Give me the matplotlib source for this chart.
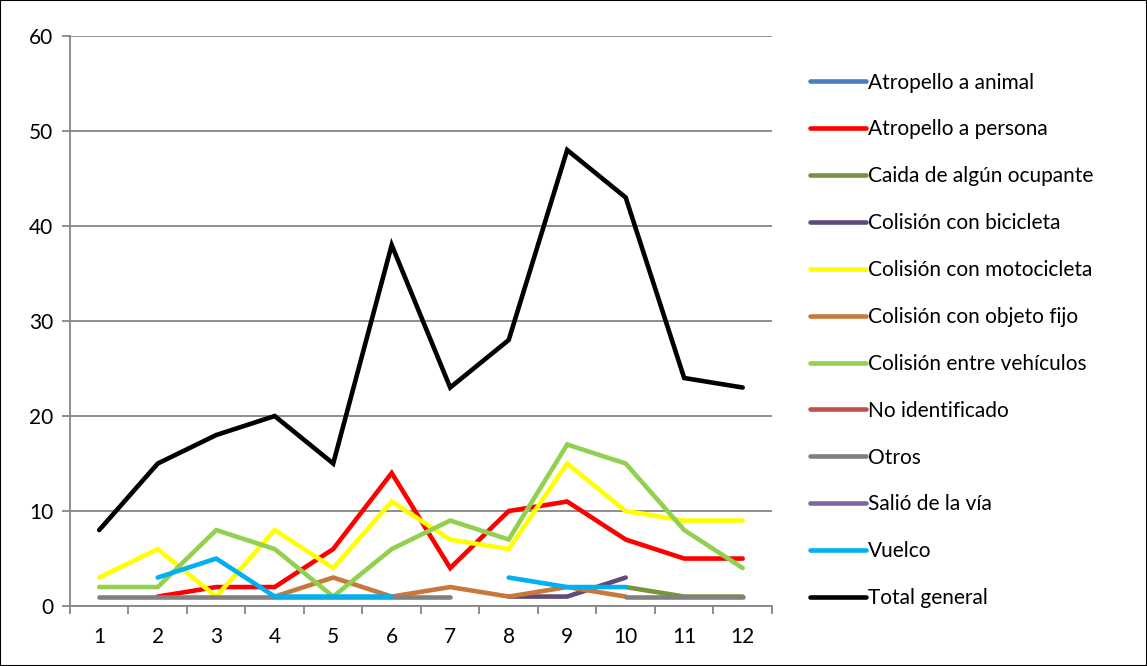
import numpy as np
import matplotlib
matplotlib.use('Agg')
import matplotlib.pyplot as plt
from matplotlib.patches import Rectangle

nan = np.nan

# monthly counts by accident type
months = list(range(1, 13))
atropello_animal = [nan] * 12
atropello_persona = [nan, 1, 2, 2, 6, 14, 4, 10, 11, 7, 5, 5]
caida_ocupante = [nan, nan, nan, nan, nan, nan, nan, nan, nan, 2, 1, 1]
colision_bicicleta = [nan, nan, nan, nan, nan, nan, nan, 1, 1, 3, nan, nan]
colision_moto = [3, 6, 1, 8, 4, 11, 7, 6, 15, 10, 9, 9]
colision_objeto = [nan, nan, nan, 1, 3, 1, 2, 1, 2, 1, nan, nan]
colision_vehiculos = [2, 2, 8, 6, 1, 6, 9, 7, 17, 15, 8, 4]
no_identificado = [nan] * 12
otros = [1, 1, 1, 1, 1, 1, 1, nan, nan, 1, 1, 1]
salio_via = [nan] * 12
vuelco = [nan, 3, 5, 1, 1, 1, nan, 3, 2, 2, nan, nan]
total_general = [8, 15, 18, 20, 15, 38, 23, 28, 48, 43, 24, 23]

series = [
    ('Atropello a animal', atropello_animal, '#4A7EBB'),
    ('Atropello a persona', atropello_persona, '#FF0000'),
    ('Caida de algún ocupante', caida_ocupante, '#77933C'),
    ('Colisión con bicicleta', colision_bicicleta, '#604A7B'),
    ('Colisión con motocicleta', colision_moto, '#FFFF00'),
    ('Colisión con objeto fijo', colision_objeto, '#C8783A'),
    ('Colisión entre vehículos', colision_vehiculos, '#92D050'),
    ('No identificado', no_identificado, '#C0504D'),
    ('Otros', otros, '#808080'),
    ('Salió de la vía', salio_via, '#8064A2'),
    ('Vuelco', vuelco, '#00B0F0'),
    ('Total general', total_general, '#000000'),
]

plt.rcParams['font.family'] = ['Lato', 'DejaVu Sans']

fig = plt.figure(figsize=(11.47, 6.66), dpi=100)
ax = fig.add_axes([0.061, 0.090, 0.612, 0.856])

for name, vals, col in series:
    ax.plot(months, vals, color=col, lw=3.3, label=name, solid_capstyle='round',
            solid_joinstyle='miter')

ax.set_xlim(0.5, 12.5)
ax.set_ylim(0, 60)
ax.set_yticks(range(0, 61, 10))
ax.set_xticks(months)
ax.set_xticks(np.arange(0.5, 13, 1), minor=True)
ax.tick_params(axis='x', which='major', length=0, pad=15, labelsize=15)
ax.tick_params(axis='x', which='minor', length=6, width=1.3, color='#868686')
ax.tick_params(axis='y', length=6, width=1.3, color='#868686', labelsize=15, pad=6)
ax.grid(axis='y', color='#868686', lw=1.3)
ax.set_axisbelow(True)
for s in ['top', 'right']:
    ax.spines[s].set_visible(False)
for s in ['left', 'bottom']:
    ax.spines[s].set_color('#868686')
    ax.spines[s].set_linewidth(1.3)

leg = fig.legend(loc='upper left', bbox_to_anchor=(0.706, 0.891), frameon=False,
                 fontsize=15, handlelength=2.7, handletextpad=0.1,
                 labelspacing=1.29, borderpad=0, borderaxespad=0)

fig.patches.append(Rectangle((0, 0), 1, 1, transform=fig.transFigure,
                             fill=False, edgecolor='#000000', lw=1.5))

fig.savefig('out.png', dpi=100)
